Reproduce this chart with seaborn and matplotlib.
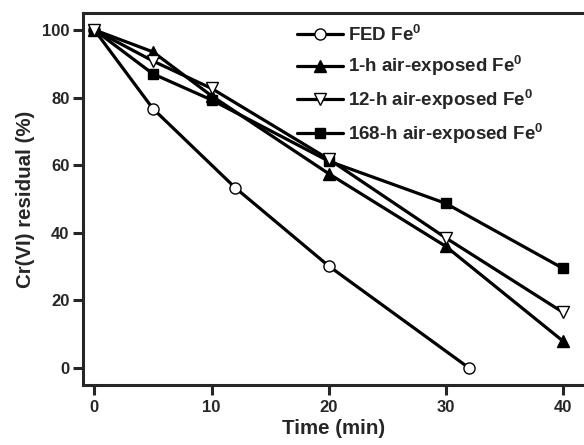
import pandas as pd
import numpy as np
import seaborn as sns
from matplotlib import pyplot as plt

sns.set_style('ticks')
plt.rcParams['font.family'] = ['Liberation Sans', 'DejaVu Sans']
plt.rcParams['font.weight'] = 'bold'
plt.rcParams['mathtext.fontset'] = 'custom'
plt.rcParams['mathtext.rm'] = 'Liberation Sans:bold'
plt.rcParams['mathtext.bf'] = 'Liberation Sans:bold'

# data
t_fed = [0, 5, 12, 20, 32]
fed = [100, 76.7, 53.4, 30.2, 0]
t_air = [0, 5, 10, 20, 30, 40]
h1 = [100, 93.5, 80.5, 57.5, 36.0, 8.0]
h12 = [100, 90.8, 82.7, 61.8, 38.5, 16.5]
h168 = [100, 87.0, 79.3, 61.2, 48.7, 29.5]

labels = ['FED Fe$^{0}$', '1-h air-exposed Fe$^{0}$',
          '12-h air-exposed Fe$^{0}$', '168-h air-exposed Fe$^{0}$']

# (x, y, label, marker, face, size, zorder)
series = [
    (t_fed, fed, labels[0], 'o', 'white', 8, 2),
    (t_air, h1, labels[1], '^', 'black', 9, 3),
    (t_air, h12, labels[2], 'v', 'white', 9, 5),
    (t_air, h168, labels[3], 's', 'black', 7.5, 4),
]

fig = plt.figure(figsize=(5.84, 4.45), dpi=100)
ax = fig.add_axes([0.1416, 0.1348, 0.8584, 0.836])

handles = []
for tx, vals, lab, mk, fc, ms, z in series:
    df = pd.DataFrame({'t': tx, 'v': vals})
    sns.lineplot(data=df, x='t', y='v', ax=ax, color='black', linewidth=2.3,
                 marker=mk, markersize=ms,
                 markerfacecolor=fc, markeredgecolor='black',
                 markeredgewidth=1.0, zorder=z, label=lab, legend=False)
    handles.append(ax.lines[-1])

ax.set_xlim(-1, 41.8)
ax.set_ylim(-5, 105)
ax.set_xticks(np.arange(0, 41, 10))
ax.set_yticks(np.arange(0, 101, 20))
ax.tick_params(axis='both', direction='out', length=7.5, width=2.2,
               labelsize=12)
ax.tick_params(axis='y', pad=2)
ax.tick_params(axis='x', pad=3)
for lb in ax.get_xticklabels() + ax.get_yticklabels():
    lb.set_fontweight('bold')
for s in ['left', 'bottom', 'top']:
    ax.spines[s].set_linewidth(2.2)
ax.spines['right'].set_visible(False)

ax.set_xlabel('Time (min)', fontsize=14.8, fontweight='bold', labelpad=3)
ax.set_ylabel('Cr(VI) residual (%)', fontsize=14.8, fontweight='bold', labelpad=5)

fig.legend(handles=handles, labels=labels, loc='upper left',
           bbox_to_anchor=(0.508, 0.946), frameon=False,
           handlelength=2.45, handletextpad=0.27, labelspacing=0.47,
           borderpad=0, borderaxespad=0, prop={'weight': 'bold', 'size': 13.5})

fig.savefig('out.png', dpi=100)
plt.close()
